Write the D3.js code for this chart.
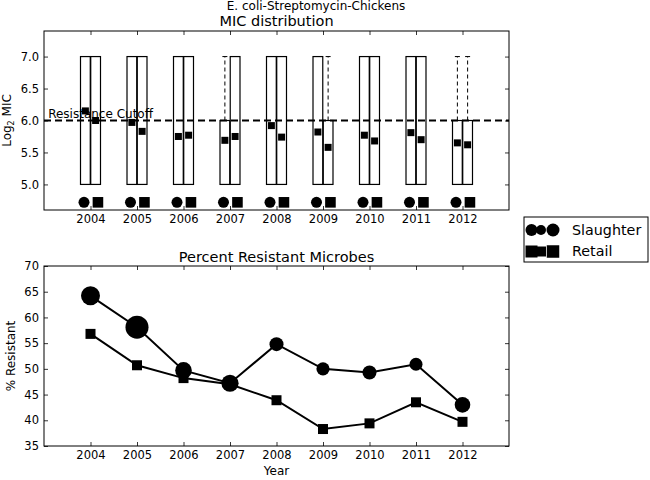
<!DOCTYPE html>
<html>
<head>
<meta charset="utf-8">
<script src="https://cdn.jsdelivr.net/npm/d3@7"></script>
<style>
  body { margin: 0; background: #fff; }
  text { font-family: "DejaVu Sans", sans-serif; fill: #000; }
  .tick line { stroke: #000; stroke-width: 0.8; }
</style>
</head>
<body>
<div id="chart"></div>
<script>
// data
var years = [2004, 2005, 2006, 2007, 2008, 2009, 2010, 2011, 2012];

// MIC boxes (log2 MIC): q1, q3, upper whisker
var slaughterQ1 = [5, 5, 5, 5, 5, 5, 5, 5, 5];
var slaughterQ3 = [7, 7, 7, 6, 7, 7, 7, 7, 6];
var slaughterHi = [7, 7, 7, 7, 7, 7, 7, 7, 7];
var retailQ1 = [5, 5, 5, 5, 5, 5, 5, 5, 5];
var retailQ3 = [7, 7, 7, 7, 7, 6, 7, 7, 6];
var retailHi = [7, 7, 7, 7, 7, 7, 7, 7, 7];
var slaughterMean = [6.15, 5.97, 5.75, 5.69, 5.92, 5.82, 5.77, 5.81, 5.65];
var retailMean = [6.00, 5.83, 5.77, 5.75, 5.74, 5.58, 5.68, 5.70, 5.62];
var cutoff = 6.0;

// percent resistant
var slaughterPct = [64.2, 58.1, 49.7, 47.2, 54.8, 50.0, 49.3, 50.9, 43.0];
var retailPct = [56.8, 50.7, 48.2, 47.0, 43.9, 38.3, 39.4, 43.5, 39.7];
var slaughterRadius = [9.5, 11.5, 8.3, 8.6, 7, 6.6, 7, 6.5, 7.8];

var micTicks = [5.0, 5.5, 6.0, 6.5, 7.0];
var pctTicks = [35, 40, 45, 50, 55, 60, 65, 70];

var W = 650, H = 480;
var left = 44, right = 509;

var svg = d3.select("#chart").append("svg")
    .attr("width", W)
    .attr("height", H);
svg.append("rect").attr("width", W).attr("height", H).attr("fill", "#fff");

var x = d3.scaleLinear().domain([2003, 2013]).range([left, right]);
var yTop = d3.scaleLinear().domain([4.6, 7.4]).range([210, 31]);
var yBot = d3.scaleLinear().domain([35, 70]).range([446, 266]);

function frame(y, ticksY, fmt) {
  var g = svg.append("g");
  var y0 = y.range()[0], y1 = y.range()[1];
  g.append("g").attr("transform", "translate(0," + y0 + ")")
    .call(d3.axisBottom(x).tickValues(years).tickFormat(d3.format("d"))
      .tickSizeInner(-4).tickSizeOuter(0).tickPadding(5))
    .call(a => a.select(".domain").remove())
    .selectAll("text").attr("font-size", 11.5).attr("font-family", "DejaVu Sans");
  g.append("g").attr("transform", "translate(0," + y1 + ")")
    .call(d3.axisTop(x).tickValues(years).tickFormat("")
      .tickSizeInner(-4).tickSizeOuter(0))
    .call(a => a.select(".domain").remove());
  g.append("g").attr("transform", "translate(" + left + ",0)")
    .call(d3.axisLeft(y).tickValues(ticksY).tickFormat(fmt)
      .tickSizeInner(-4).tickSizeOuter(0).tickPadding(5))
    .call(a => a.select(".domain").remove())
    .selectAll("text").attr("font-size", 11.5).attr("font-family", "DejaVu Sans");
  g.append("g").attr("transform", "translate(" + right + ",0)")
    .call(d3.axisRight(y).tickValues(ticksY).tickFormat("")
      .tickSizeInner(-4).tickSizeOuter(0))
    .call(a => a.select(".domain").remove());
  return g;
}

// ---------- top panel: MIC distribution ----------
var gMic = svg.append("g");
var bw = x(2003.21) - x(2003);
var off = 0.11;

function boxes(q1, q3, hi, shift) {
  years.forEach(function(yr, i) {
    var cx = x(yr + shift);
    gMic.append("rect")
      .attr("x", cx - bw / 2).attr("y", yTop(q3[i]))
      .attr("width", bw).attr("height", yTop(q1[i]) - yTop(q3[i]))
      .attr("fill", "none").attr("stroke", "#000").attr("stroke-width", 1.2);
    if (hi[i] > q3[i]) {
      gMic.append("line")
        .attr("x1", cx).attr("x2", cx)
        .attr("y1", yTop(q3[i])).attr("y2", yTop(hi[i]))
        .attr("stroke", "#000").attr("stroke-width", 1).attr("stroke-dasharray", "4,3");
      gMic.append("line")
        .attr("x1", cx - 2.5).attr("x2", cx + 2.5)
        .attr("y1", yTop(hi[i])).attr("y2", yTop(hi[i]))
        .attr("stroke", "#000").attr("stroke-width", 1);
    }
  });
}
boxes(slaughterQ1, slaughterQ3, slaughterHi, -off);
boxes(retailQ1, retailQ3, retailHi, off);

gMic.append("line")
  .attr("x1", left).attr("x2", right)
  .attr("y1", yTop(cutoff)).attr("y2", yTop(cutoff))
  .attr("stroke", "#000").attr("stroke-width", 2).attr("stroke-dasharray", "7,4");

gMic.append("text")
  .attr("x", x(2003.09)).attr("y", yTop(cutoff) - 2.5)
  .attr("font-size", 12)
  .text("Resistance Cutoff");

// mean markers
gMic.selectAll(".sm").data(years).enter().append("rect")
  .attr("x", (d, i) => x(d - off) - 3.5).attr("y", (d, i) => yTop(slaughterMean[i]) - 3.5)
  .attr("width", 7).attr("height", 7).attr("fill", "#000");
gMic.selectAll(".rm").data(years).enter().append("rect")
  .attr("x", (d, i) => x(d + off) - 3.5).attr("y", (d, i) => yTop(retailMean[i]) - 3.5)
  .attr("width", 7).attr("height", 7).attr("fill", "#000");

// group markers under boxes
gMic.selectAll(".gc").data(years).enter().append("circle")
  .attr("cx", d => x(d - 0.14)).attr("cy", yTop(4.72)).attr("r", 5.5).attr("fill", "#000");
gMic.selectAll(".gs").data(years).enter().append("rect")
  .attr("x", d => x(d + 0.16) - 5.3).attr("y", yTop(4.72) - 5.3)
  .attr("width", 10.6).attr("height", 10.6).attr("fill", "#000");

frame(yTop, micTicks, d3.format(".1f"));
svg.append("rect").attr("x", left).attr("y", 31).attr("width", right - left).attr("height", 210 - 31)
  .attr("fill", "none").attr("stroke", "#000").attr("stroke-width", 1);

svg.append("text").attr("x", 316).attr("y", 10).attr("text-anchor", "middle")
  .attr("font-size", 12).text("E. coli-Streptomycin-Chickens");
svg.append("text").attr("x", (left + right) / 2).attr("y", 26).attr("text-anchor", "middle")
  .attr("font-size", 14.5).text("MIC distribution");

var ylab = svg.append("text")
  .attr("transform", "translate(11," + ((31 + 210) / 2) + ")rotate(-90)")
  .attr("text-anchor", "middle").attr("font-size", 12);
ylab.append("tspan").text("Log");
ylab.append("tspan").attr("font-size", 8).attr("dy", 3).text("2");
ylab.append("tspan").attr("dy", -3).text(" MIC");

// ---------- bottom panel: percent resistant ----------
var gPct = svg.append("g");
var line = d3.line().x((d, i) => x(years[i])).y(d => yBot(d));

gPct.append("path").datum(slaughterPct).attr("d", line)
  .attr("fill", "none").attr("stroke", "#000").attr("stroke-width", 2);
gPct.append("path").datum(retailPct).attr("d", line)
  .attr("fill", "none").attr("stroke", "#000").attr("stroke-width", 2);

gPct.selectAll(".rs").data(retailPct).enter().append("rect")
  .attr("x", (d, i) => x(years[i]) - 5).attr("y", d => yBot(d) - 5)
  .attr("width", 10).attr("height", 10).attr("fill", "#000");
gPct.selectAll(".sc").data(slaughterPct).enter().append("circle")
  .attr("cx", (d, i) => x(years[i])).attr("cy", d => yBot(d))
  .attr("r", (d, i) => slaughterRadius[i]).attr("fill", "#000");

frame(yBot, pctTicks, d3.format("d"));
svg.append("rect").attr("x", left).attr("y", 266).attr("width", right - left).attr("height", 446 - 266)
  .attr("fill", "none").attr("stroke", "#000").attr("stroke-width", 1);

svg.append("text").attr("x", (left + right) / 2).attr("y", 261.5).attr("text-anchor", "middle")
  .attr("font-size", 14.5).text("Percent Resistant Microbes");
svg.append("text").attr("x", (left + right) / 2).attr("y", 475).attr("text-anchor", "middle")
  .attr("font-size", 12).text("Year");
svg.append("text")
  .attr("transform", "translate(15," + ((266 + 446) / 2) + ")rotate(-90)")
  .attr("text-anchor", "middle").attr("font-size", 12).text("% Resistant");

// ---------- legend ----------
var lg = svg.append("g");
lg.append("rect").attr("x", 524).attr("y", 217).attr("width", 124).attr("height", 45)
  .attr("fill", "#fff").attr("stroke", "#000").attr("stroke-width", 1);
var legX = [531.5, 541, 553];
var legR = [6, 5, 6.5];
var legS = [12, 10, 12.5];
legX.forEach(function(lx, i) {
  lg.append("circle").attr("cx", lx).attr("cy", 230).attr("r", legR[i]).attr("fill", "#000");
  lg.append("rect").attr("x", lx - legS[i] / 2).attr("y", 251.5 - legS[i] / 2)
    .attr("width", legS[i]).attr("height", legS[i]).attr("fill", "#000");
});
lg.append("text").attr("x", 572).attr("y", 235).attr("font-size", 14.3).text("Slaughter");
lg.append("text").attr("x", 572).attr("y", 256).attr("font-size", 14.3).text("Retail");
</script>
</body>
</html>
